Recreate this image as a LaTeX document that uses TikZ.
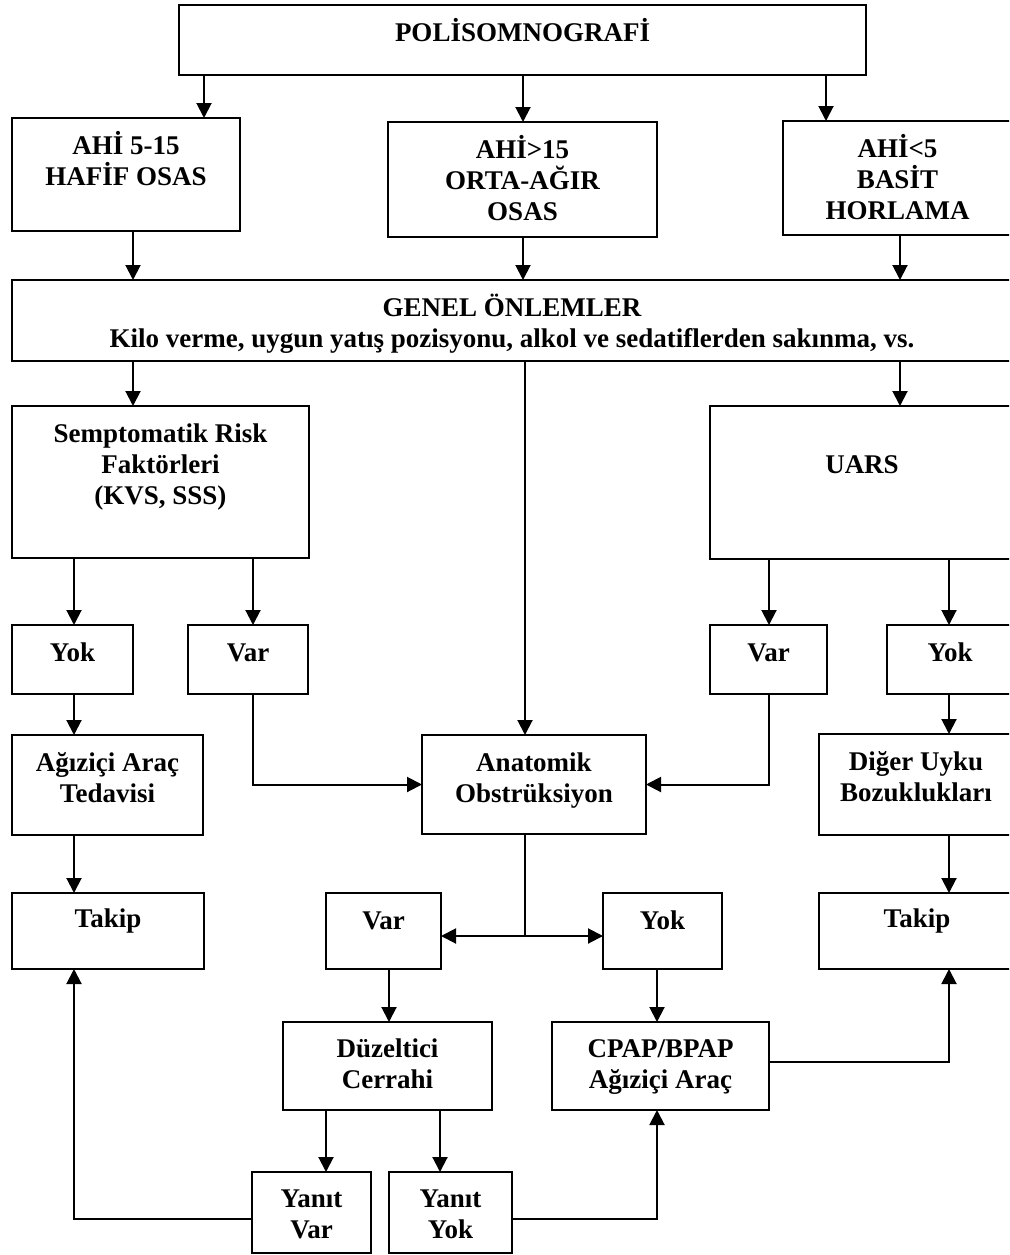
\documentclass[tikz,border=0pt]{standalone}
\usepackage{fontspec}
\setmainfont{Liberation Serif}
\usetikzlibrary{arrows.meta,calc}
\tikzset{
  box/.style={draw, line width=2pt, rectangle, inner sep=0pt, outer sep=0pt},
  txt/.style={anchor=north, inner sep=0pt, outer sep=0pt, align=center,
    font=\fontsize{27}{31}\selectfont\bfseries},
  arr/.style={line width=2pt, -{Triangle[length=15pt,width=15pt]}},
  ln/.style={line width=2pt}
}
\newcommand\bx[7][36]{%
  \node[box, minimum width={(#5-#3)*1pt}, minimum height={(#6-#4)*1pt}] (#2) at ({(#3+#5)/2},{(#4+#6)/2}) {};
  \node[txt] (#2-t) at ([yshift={-(#1-24)*1pt}]#2.north) {\rule{0pt}{24pt}#7};
}
\begin{document}
\begin{tikzpicture}[x=1pt,y=-1pt]
\useasboundingbox (0,0) rectangle (1009,1255);
\fill[white] (0,0) rectangle (1009,1255);
\clip (0,0) rectangle (1009,1255);

% columns and rows
\coordinate (cA) at (204,0);
\coordinate (cB) at (523,0);
\coordinate (cC) at (826,0);
\coordinate (cL) at (133,0);
\coordinate (cR) at (900,0);
\coordinate (cL1) at (74,0);
\coordinate (cL2) at (253,0);
\coordinate (cR1) at (769,0);
\coordinate (cR2) at (949,0);
\coordinate (cM) at (525,0);
\coordinate (cM1) at (389,0);
\coordinate (cM2) at (657,0);
\coordinate (cD1) at (326,0);
\coordinate (cD2) at (440,0);
\coordinate (split) at (525,936);
\coordinate (r1062) at (0,1062);
\coordinate (r1219) at (0,1219);

% boxes
\bx[37]{poli}{179}{5}{866}{75}{POLİSOMNOGRAFİ}
\bx{ahia}{12}{118}{240}{231}{AHİ 5-15\\HAFİF OSAS}
\bx{ahib}{388}{122}{657}{237}{AHİ>15\\ORTA-AĞIR\\OSAS}
\bx{ahic}{783}{121}{1012}{235}{AHİ<5\\BASİT\\HORLAMA}
\bx{genel}{12}{280}{1012}{361}{GENEL ÖNLEMLER\\Kilo verme, uygun yatış pozisyonu, alkol ve sedatiflerden sakınma, vs.}
\bx{semp}{12}{406}{309}{558}{Semptomatik Risk\\Faktörleri\\(KVS, SSS)}
\bx[67]{uars}{710}{406}{1014}{559}{UARS}
\bx{yokL}{12}{625}{133}{694}{Yok}
\bx{varL}{188}{625}{308}{694}{Var}
\bx{varR}{710}{625}{827}{694}{Var}
\bx{yokR}{887}{625}{1013}{694}{Yok}
\bx{agz}{12}{735}{203}{835}{Ağıziçi Araç\\Tedavisi}
\bx{anat}{422}{735}{646}{834}{Anatomik\\Obstrüksiyon}
\bx{diger}{819}{734}{1013}{835}{Diğer Uyku\\Bozuklukları}
\bx[34]{takL}{12}{893}{204}{969}{Takip}
\bx{varM}{326}{893}{441}{969}{Var}
\bx{yokM}{603}{893}{722}{969}{Yok}
\bx[34]{takR}{819}{893}{1015}{969}{Takip}
\bx[35]{duz}{283}{1022}{492}{1110}{Düzeltici\\Cerrahi}
\bx[35]{cpap}{552}{1022}{769}{1110}{CPAP/BPAP\\Ağıziçi Araç}
\bx[35]{yv}{252}{1172}{371}{1253}{Yanıt\\Var}
\bx[35]{yy}{389}{1172}{512}{1253}{Yanıt\\Yok}

% connectors
\draw[arr] (poli.south -| cA) -- (ahia.north -| cA);
\draw[arr] (poli.south -| cB) -- (ahib.north -| cB);
\draw[arr] (poli.south -| cC) -- (ahic.north -| cC);
\draw[arr] (ahia.south -| cL) -- (genel.north -| cL);
\draw[arr] (ahib.south -| cB) -- (genel.north -| cB);
\draw[arr] (ahic.south -| cR) -- (genel.north -| cR);
\draw[arr] (genel.south -| cL) -- (semp.north -| cL);
\draw[arr] (genel.south -| cM) -- (anat.north -| cM);
\draw[arr] (genel.south -| cR) -- (uars.north -| cR);
\draw[arr] (semp.south -| cL1) -- (yokL.north -| cL1);
\draw[arr] (semp.south -| cL2) -- (varL.north -| cL2);
\draw[arr] (uars.south -| cR1) -- (varR.north -| cR1);
\draw[arr] (uars.south -| cR2) -- (yokR.north -| cR2);
\draw[arr] (yokL.south -| cL1) -- (agz.north -| cL1);
\draw[arr] (varL.south -| cL2) |- (anat.west);
\draw[arr] (varR.south -| cR1) |- (anat.east);
\draw[arr] (yokR.south -| cR2) -- (diger.north -| cR2);
\draw[arr] (agz.south -| cL1) -- (takL.north -| cL1);
\draw[arr] (diger.south -| cR2) -- (takR.north -| cR2);
\draw[ln] (anat.south -| cM) -- (split);
\draw[arr] (split) -- (split -| varM.east);
\draw[arr] (split) -- (split -| yokM.west);
\draw[arr] (varM.south -| cM1) -- (duz.north -| cM1);
\draw[arr] (yokM.south -| cM2) -- (cpap.north -| cM2);
\draw[arr] (cpap.east |- r1062) -| (takR.south -| cR2);
\draw[arr] (duz.south -| cD1) -- (yv.north -| cD1);
\draw[arr] (duz.south -| cD2) -- (yy.north -| cD2);
\draw[arr] (yv.west |- r1219) -| (takL.south -| cL1);
\draw[arr] (yy.east |- r1219) -| (cpap.south -| cM2);
\end{tikzpicture}
\end{document}
